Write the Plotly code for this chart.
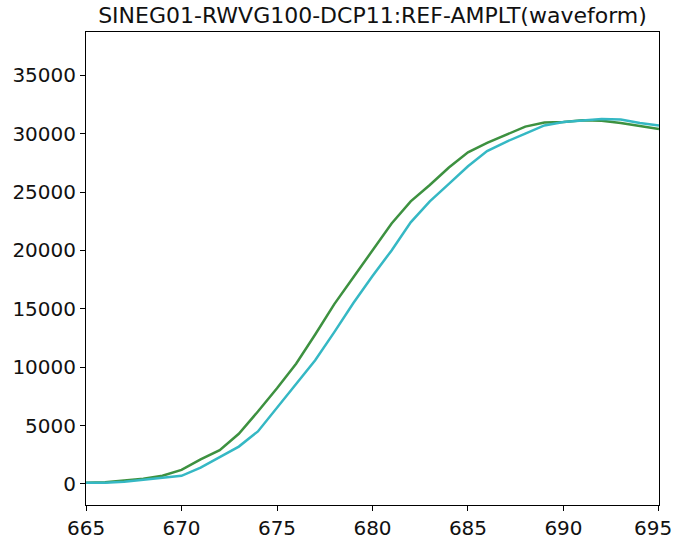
import plotly.graph_objects as go

x_vals = list(range(665, 696))

series_a = [100, 150, 300, 450, 700, 1200, 2100, 2900, 4300, 6200, 8200, 10300,
            12800, 15400, 17700, 20000, 22300, 24200, 25600, 27100, 28400, 29200,
            29900, 30600, 30950, 31000, 31150, 31100, 30900, 30650, 30400]

series_b = [100, 100, 200, 350, 500, 700, 1400, 2300, 3200, 4500, 6500, 8500,
            10600, 13000, 15500, 17800, 20000, 22400, 24200, 25700, 27200, 28500,
            29300, 30000, 30700, 31000, 31100, 31250, 31200, 30900, 30700]

title_text = "SINEG01-RWVG100-DCP11:REF-AMPLT(waveform)"
x_ticks = [665, 670, 675, 680, 685, 690, 695]
x_tick_labels = ["665", "670", "675", "680", "685", "690", "695"]
y_ticks = [0, 5000, 10000, 15000, 20000, 25000, 30000, 35000]
y_tick_labels = ["0", "5000", "10000", "15000", "20000", "25000", "30000", "35000"]

tick_font = dict(family="DejaVu Sans", size=20, color="#111111")

fig = go.Figure()
fig.add_trace(go.Scatter(x=x_vals, y=series_a, mode="lines",
                         line=dict(color="#3d9140", width=2.5), showlegend=False))
fig.add_trace(go.Scatter(x=x_vals, y=series_b, mode="lines",
                         line=dict(color="#35b8c4", width=2.5), showlegend=False))

axis_common = dict(showline=True, mirror=True, linecolor="black", linewidth=1,
                   ticks="outside", ticklen=5, tickcolor="black", showgrid=False,
                   zeroline=False, automargin=False, tickfont=tick_font)

# last x label drawn flush with the right edge so it is not clipped
shown_x_labels = x_tick_labels[:-1] + [""]

fig.update_layout(
    width=674, height=539,
    margin=dict(l=86, r=15, t=32, b=34, autoexpand=False),
    paper_bgcolor="white", plot_bgcolor="white",
    title=dict(text=title_text, x=(86 + 659) / 2 / 674, xanchor="center",
               y=1 - 15 / 539, yanchor="middle",
               font=dict(family="DejaVu Sans", size=22, color="#111111")),
    xaxis=dict(range=[664.999, 695.001], tickvals=x_ticks, ticktext=shown_x_labels,
               **axis_common),
    yaxis=dict(range=[-1800, 38700], tickvals=y_ticks, ticktext=y_tick_labels,
               **axis_common),
    annotations=[dict(text=x_tick_labels[-1], xref="paper", yref="paper",
                      x=1 + 15 / (674 - 86 - 15), xanchor="right",
                      y=-9 / (539 - 32 - 34), yanchor="top",
                      showarrow=False, font=tick_font)],
)

fig.write_html("out.html")
